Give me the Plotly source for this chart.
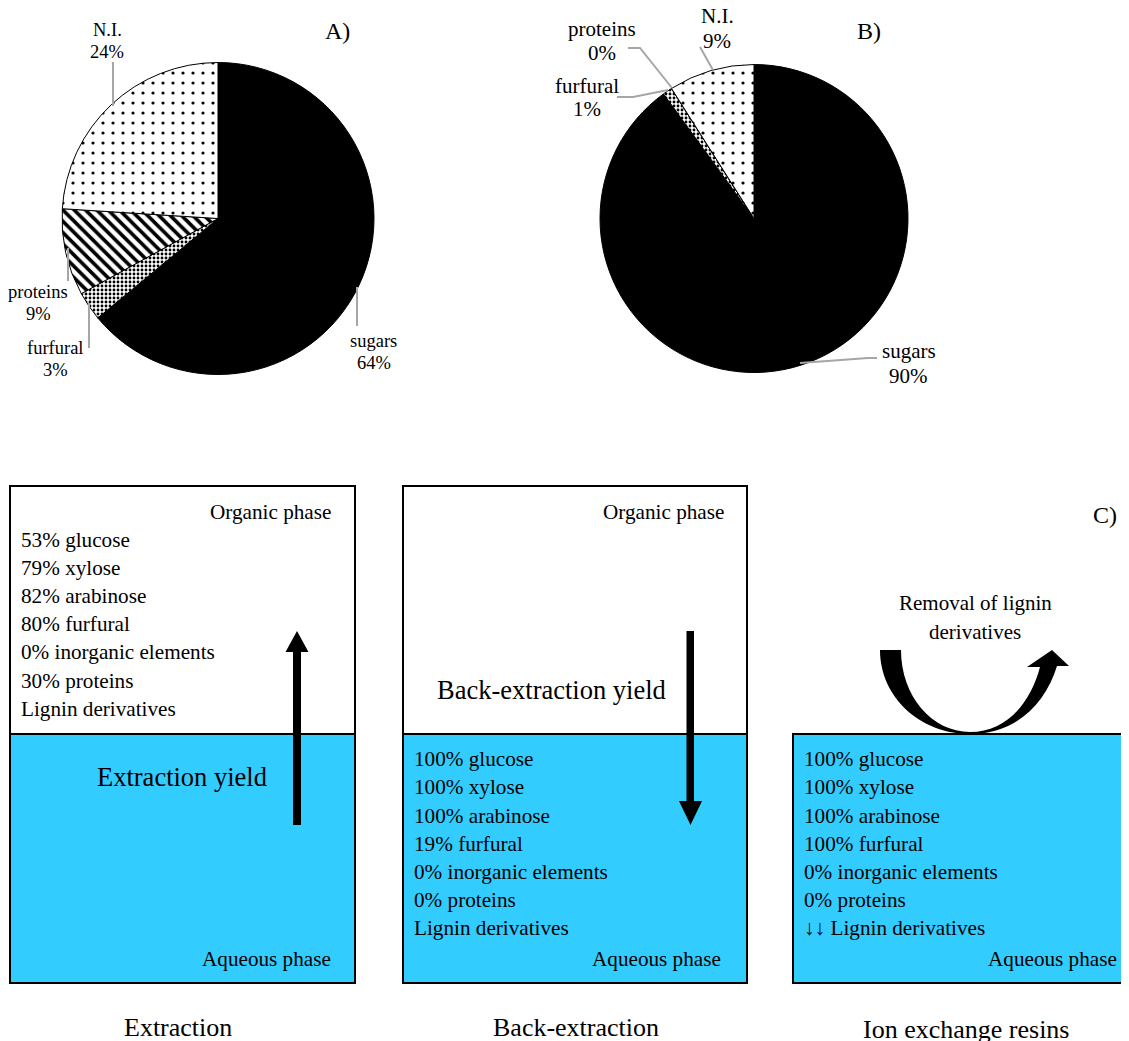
import plotly.graph_objects as go

W, H = 1129, 1041
OFF = 8  # the page body margin shifts the figure by 8px; compensate
FONT = "Liberation Serif"

# ---------------- data ----------------
slice_labels = ["sugars", "furfural", "proteins", "N.I."]
values_A = [64, 3, 9, 24]
values_B = [90, 1, 0, 9]

components = ["glucose", "xylose", "arabinose", "furfural", "inorganic elements", "proteins"]
extraction_yield = [53, 79, 82, 80, 0, 30]
back_extraction_yield = [100, 100, 100, 19, 0, 0]
ion_exchange_yield = [100, 100, 100, 100, 0, 0]
lignin_A = "Lignin derivatives"
lignin_C = "↓↓ Lignin derivatives"

stage_titles = ["Extraction", "Back-extraction", "Ion exchange resins"]
panel_letters = ["A)", "B)", "C)"]

BLUE = "#33CCFF"
GREY = "#A6A6A6"

fig = go.Figure()


def dom(cx, cy, r):
    cx -= OFF
    cy -= OFF
    return dict(x=[(cx - r) / W, (cx + r) / W], y=[1 - (cy + r) / H, 1 - (cy - r) / H])


pattern = dict(
    shape=["", ".", "\\", "."],
    size=[8, 4, 8, 10],
    solidity=[0.3, 0.4, 0.45, 0.08],
    fgcolor="black",
    bgcolor="white",
    fillmode="replace",
)

for vals, (cx, cy, r) in [(values_A, (218, 218.5, 156)), (values_B, (754, 218.5, 154))]:
    fig.add_trace(go.Pie(
        labels=slice_labels, values=vals, sort=False, direction="clockwise", rotation=0,
        textinfo="none", hoverinfo="label+percent", domain=dom(cx, cy, r),
        marker=dict(colors=["black", "white", "white", "white"],
                    line=dict(color="black", width=1), pattern=pattern),
        showlegend=False,
    ))

# invisible scatter to anchor pixel axes
fig.add_trace(go.Scatter(x=[], y=[], showlegend=False, hoverinfo="skip"))

shapes = []
ann = []


def txt(x, y, s, size, xanchor="center"):
    ann.append(dict(x=x, y=y, xref="x", yref="y", text=s, showarrow=False,
                    xanchor=xanchor, yanchor="middle",
                    font=dict(family=FONT, size=size, color="black")))


def path(p, fill=None, color="black", width=0):
    d = dict(type="path", path=p, xref="x", yref="y", line=dict(color=color, width=width))
    if fill:
        d["fillcolor"] = fill
    shapes.append(d)


# ---------------- pie labels ----------------
labA_pos = {"N.I.": (107, 29.5, 51.5), "proteins": (38, 291.5, 313.5),
            "furfural": (55, 348, 370), "sugars": (373.5, 341, 363)}
for lab, v in zip(slice_labels, values_A):
    x, y1, y2 = labA_pos[lab]
    txt(x, y1, lab, 18.5)
    txt(x, y2, f"{v}%", 18.5)
labB_pos = {"N.I.": (717, 16, 41), "proteins": (602, 28.6, 53.3),
            "furfural": (586.5, 86, 109), "sugars": (908.5, 350.5, 376)}
for lab, v in zip(slice_labels, values_B):
    x, y1, y2 = labB_pos[lab]
    txt(x, y1, lab, 21)
    txt(x, y2, f"{v}%", 21)

for p in ["M 113 62 L 113 106", "M 68 248 L 68 281", "M 89 303 L 89 348", "M 357 287 L 357 326",
          "M 628 48 L 640 48 L 672 88", "M 700 47 L 713 70", "M 617 97 L 633 97 L 668 90",
          "M 800 363 L 868 358 L 877 358"]:
    path(p, color=GREY, width=2)

txt(337.5, 31, panel_letters[0], 24)
txt(869, 31, panel_letters[1], 24)
txt(1105, 515, panel_letters[2], 24)

# ---------------- boxes ----------------
for x0, x1 in [(10, 355), (403, 747)]:
    shapes.append(dict(type="rect", xref="x", yref="y", x0=x0, x1=x1, y0=486, y1=734,
                       fillcolor="white", line=dict(color="black", width=2)))
for x0, x1 in [(10, 355), (403, 747), (793, 1134)]:
    shapes.append(dict(type="rect", xref="x", yref="y", x0=x0, x1=x1, y0=734, y1=983,
                       fillcolor=BLUE, line=dict(color="black", width=2)))

path("M 293 825 L 301 825 L 301 652 L 308.5 652 L 297 631 L 285.5 652 L 293 652 Z", fill="black")
path("M 686.5 631 L 694 631 L 694 801 L 702 801 L 690.5 825 L 679 801 L 686.5 801 Z", fill="black")
path("M 880 650 C 880 697 920 734 970 734 C 1015 734 1045 705 1057 666 L 1069 666 L 1052 650 "
     "L 1027 667 L 1040 667 C 1030 705 1005 732 970 732 C 932 732 901 696 901 650 Z", fill="black")

STEP = 28.1
FS = 21.2
txt(333, 511.5, "Organic phase", FS, "right")
for i, (c, v) in enumerate(zip(components, extraction_yield)):
    txt(19, 540 + STEP * i, f"{v}% {c}", FS, "left")
txt(19, 540 + STEP * 6, lignin_A, FS, "left")
txt(181.5, 777, "Extraction yield", 26.5)
txt(333, 959.3, "Aqueous phase", FS, "right")

txt(726, 511.5, "Organic phase", FS, "right")
txt(551.5, 689.5, "Back-extraction yield", 26.5)
for i, (c, v) in enumerate(zip(components, back_extraction_yield)):
    txt(411.5, 759.3 + STEP * i, f"{v}% {c}", FS, "left")
txt(411.5, 759.3 + STEP * 6, lignin_A, FS, "left")
txt(723, 959.3, "Aqueous phase", FS, "right")

txt(975, 603, "Removal of lignin", 21)
txt(975, 631.5, "derivatives", 21)
for i, (c, v) in enumerate(zip(components, ion_exchange_yield)):
    txt(801.5, 759.3 + STEP * i, f"{v}% {c}", FS, "left")
txt(801.5, 759.3 + STEP * 6, lignin_C, FS, "left")
txt(1119, 959.3, "Aqueous phase", FS, "right")

for x, y, s in zip([178, 576, 966], [1027, 1027, 1029], stage_titles):
    txt(x, y, s, 26)

fig.update_layout(
    width=W, height=H, margin=dict(l=0, r=0, t=0, b=0),
    paper_bgcolor="white", plot_bgcolor="rgba(0,0,0,0)",
    showlegend=False, shapes=shapes, annotations=ann,
    xaxis=dict(range=[OFF, W + OFF], visible=False, fixedrange=True, domain=[0, 1]),
    yaxis=dict(range=[H + OFF, OFF], visible=False, fixedrange=True, domain=[0, 1]),
)

fig.write_html("out.html")
